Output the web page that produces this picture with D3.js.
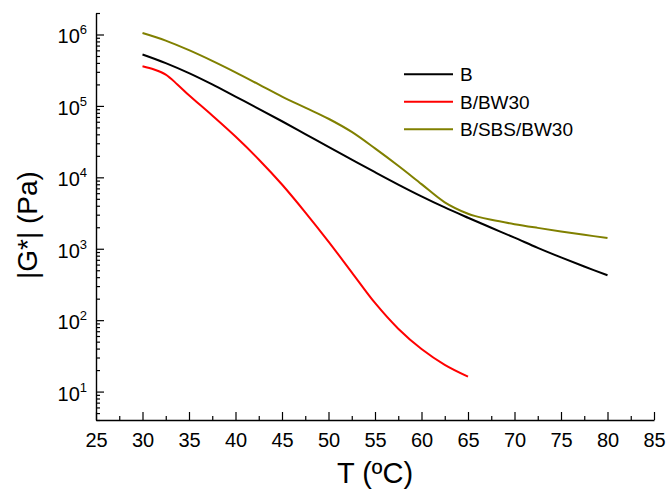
<!DOCTYPE html>
<html>
<head>
<meta charset="utf-8">
<script src="https://cdn.jsdelivr.net/npm/d3@7/dist/d3.min.js"></script>
<style>
  html, body { margin: 0; padding: 0; background: #fff; }
  svg { display: block; font-family: "Liberation Sans", Arial, sans-serif; }
</style>
</head>
<body>
<svg id="chart" width="669" height="490"></svg>
<script>
// Temperature sweep (°C)
const tempsB = [30, 32.5, 35, 37.5, 40, 42.5, 45, 47.5, 50, 52.5, 55, 57.5, 60, 62.5, 65, 67.5, 70, 72.5, 75, 77.5, 80];
const tempsBW30 = [30, 31.25, 32.5, 33.75, 35, 37.5, 40, 42.5, 45, 47.5, 50, 52.5, 55, 57.5, 60, 62.5, 65];
const tempsSBS = [30, 32.5, 35, 37.5, 40, 42.5, 45, 47.5, 50, 52.5, 55, 57.5, 60, 62.5, 65, 66, 67.5, 70, 72.5, 75, 77.5, 80];

// Complex modulus |G*| (Pa)
const gB = [525000, 398000, 288000, 200000, 135000, 91200, 61000, 40300, 26600, 17700, 11800, 7930, 5420, 3790, 2720, 1970, 1430, 1030, 757, 564, 426];
const gBW30 = [360000, 324000, 275000, 200000, 141000, 73300, 37200, 17800, 7940, 3240, 1260, 468, 174, 75.9, 39.4, 23.7, 16.2];
const gSBS = [1047000, 822000, 603000, 427000, 295000, 200000, 135000, 94400, 66100, 43200, 25400, 14500, 8040, 4470, 3090, 2820, 2540, 2210, 1960, 1750, 1570, 1410];

const seriesNames = ["B", "B/BW30", "B/SBS/BW30"];
const seriesColors = ["#000000", "#ff0000", "#808000"];

const xTicks = [25, 30, 35, 40, 45, 50, 55, 60, 65, 70, 75, 80, 85];
const yExponents = [1, 2, 3, 4, 5, 6];

const series = [
  { name: seriesNames[0], color: seriesColors[0], t: tempsB, g: gB },
  { name: seriesNames[1], color: seriesColors[1], t: tempsBW30, g: gBW30 },
  { name: seriesNames[2], color: seriesColors[2], t: tempsSBS, g: gSBS }
];

const svg = d3.select("#chart");
const plotLeft = 96, plotRight = 654, plotTop = 13, plotBottom = 420;

const x = d3.scaleLinear().domain([25, 85]).range([plotLeft, plotRight]);
const y = d3.scaleLog().domain([4, 2e6]).range([plotBottom, plotTop]);

// Curves
const line = d3.line()
  .x(d => x(d[0]))
  .y(d => y(d[1]))
  .curve(d3.curveCatmullRom.alpha(0.5));

series.forEach(s => {
  svg.append("path")
    .datum(s.t.map((t, i) => [t, s.g[i]]))
    .attr("fill", "none")
    .attr("stroke", s.color)
    .attr("stroke-width", 2)
    .attr("stroke-linejoin", "round")
    .attr("d", line);
});

// Bottom axis: major ticks every 5 °C, minor at the midpoints, all pointing inward
const xMinor = svg.append("g").attr("transform", `translate(0,${plotBottom})`)
  .call(d3.axisBottom(x).tickValues(d3.range(27.5, 85, 5)).tickSize(-4).tickFormat(""));
xMinor.call(g => g.select(".domain").remove());
const xMajor = svg.append("g").attr("transform", `translate(0,${plotBottom})`)
  .call(d3.axisBottom(x).tickValues(xTicks).tickSize(-8).tickSizeOuter(0).tickFormat(d3.format("d")));
xMajor.selectAll("text")
  .attr("y", 26.5).attr("dy", null)
  .attr("font-size", 20).attr("fill", "#000")
  .attr("font-family", "Liberation Sans, Arial, sans-serif");

// Left axis: log scale, decades labelled as powers of ten
const minorVals = [];
for (let e = 0; e <= 6; e++) {
  for (let m = 2; m <= 9; m++) {
    const v = m * Math.pow(10, e);
    if (v >= 4 && v <= 2e6) minorVals.push(v);
  }
}
const yMinor = svg.append("g").attr("transform", `translate(${plotLeft},0)`)
  .call(d3.axisLeft(y).tickValues(minorVals).tickSize(-4).tickFormat(""));
yMinor.call(g => g.select(".domain").remove());
svg.append("g").attr("transform", `translate(${plotLeft},0)`)
  .call(d3.axisLeft(y).tickValues(yExponents.map(e => Math.pow(10, e))).tickSize(-8).tickSizeOuter(0).tickFormat(""));

svg.selectAll(".domain").attr("stroke", "#000").attr("stroke-width", 1.4);
svg.selectAll(".tick line").attr("stroke", "#000").attr("stroke-width", 1.2);

// Power-of-ten labels
yExponents.forEach(e => {
  const ty = y(Math.pow(10, e));
  const t = svg.append("text")
    .attr("x", 87).attr("y", ty + 9)
    .attr("text-anchor", "end")
    .attr("font-size", 20)
    .attr("fill", "#000");
  t.append("tspan").text("10");
  t.append("tspan").attr("dy", -9).attr("font-size", 13).text(String(e));
});

// Axis titles
svg.append("text")
  .attr("x", (plotLeft + plotRight) / 2).attr("y", 483)
  .attr("text-anchor", "middle")
  .attr("font-size", 29)
  .attr("fill", "#000")
  .text("T (ºC)");

svg.append("text")
  .attr("transform", "translate(37,225) rotate(-90)")
  .attr("text-anchor", "middle")
  .attr("font-size", 28)
  .attr("fill", "#000")
  .text("|G*| (Pa)");

// Legend
const legendRows = [74.3, 101.7, 129.3];
series.forEach((s, i) => {
  const ly = legendRows[i];
  svg.append("line")
    .attr("x1", 404).attr("x2", 453)
    .attr("y1", ly).attr("y2", ly)
    .attr("stroke", s.color).attr("stroke-width", 2);
  svg.append("text")
    .attr("x", 460).attr("y", ly + 7)
    .attr("font-size", 19)
    .attr("fill", "#000")
    .text(s.name);
});
</script>
</body>
</html>
